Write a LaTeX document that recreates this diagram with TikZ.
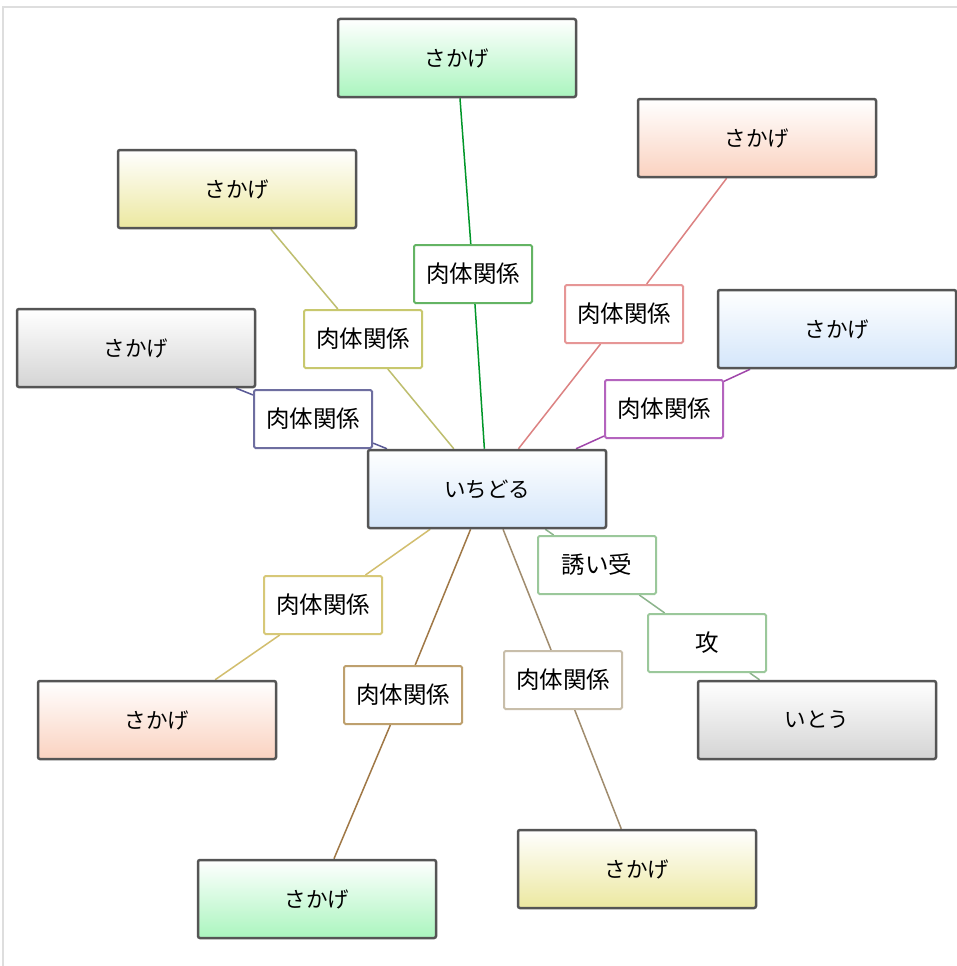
\documentclass[tikz,border=0pt]{standalone}
\usepackage{fontspec}
\newfontfamily\jp{Noto Sans CJK JP}
\usetikzlibrary{backgrounds}
\definecolor{boxborder}{RGB}{85,85,85}
\definecolor{fgreen}{RGB}{170,245,190}
\definecolor{fsalmon}{RGB}{250,210,192}
\definecolor{fyellow}{RGB}{236,232,160}
\definecolor{fgray}{RGB}{212,212,212}
\definecolor{fblue}{RGB}{212,230,250}
\definecolor{lgreen}{RGB}{0,150,40}
\definecolor{bgreen}{RGB}{100,180,100}
\definecolor{lolive}{RGB}{190,190,110}
\definecolor{bolive}{RGB}{200,200,110}
\definecolor{lpink}{RGB}{220,130,130}
\definecolor{bpink}{RGB}{230,150,150}
\definecolor{lnavy}{RGB}{90,90,150}
\definecolor{bnavy}{RGB}{110,110,160}
\definecolor{lpurple}{RGB}{160,70,170}
\definecolor{bpurple}{RGB}{180,100,190}
\definecolor{lsea}{RGB}{140,180,140}
\definecolor{bsea}{RGB}{155,200,155}
\definecolor{lgold}{RGB}{210,190,110}
\definecolor{bgold}{RGB}{215,200,120}
\definecolor{lbrown}{RGB}{160,120,70}
\definecolor{bbrown}{RGB}{190,160,110}
\definecolor{ltan}{RGB}{160,140,110}
\definecolor{btan}{RGB}{200,190,170}
\definecolor{frame}{RGB}{222,222,222}
\tikzset{
  bigbox/.style={draw=boxborder, line width=2.5pt, rounded corners=2pt,
    minimum width=238pt, minimum height=78pt, inner sep=0pt,
    top color=white, bottom color=#1,
    font=\jp\fontsize{21.5}{26}\selectfont},
  lblbox/.style={draw=#1, fill=white, line width=2pt, rounded corners=1.5pt,
    minimum width=118pt, minimum height=58pt, inner sep=0pt,
    font=\jp\fontsize{23.5}{28}\selectfont},
  conn/.style={draw=#1, line width=1.5pt}
}
\begin{document}
\begin{tikzpicture}[x=1pt,y=-1pt]
\useasboundingbox (0,0) rectangle (957,966);
% big boxes
\node[bigbox=fblue]   (hub)  at (487,489) {いちどる};
\node[bigbox=fgreen]  (g1)   at (457,58)  {さかげ};
\node[bigbox=fsalmon] (s1)   at (757,138) {さかげ};
\node[bigbox=fyellow] (y1)   at (237,189) {さかげ};
\node[bigbox=fgray]   (k1)   at (136,348) {さかげ};
\node[bigbox=fblue]   (b1)   at (837,329) {さかげ};
\node[bigbox=fsalmon] (s2)   at (157,720) {さかげ};
\node[bigbox=fgray]   (ito)  at (817,720) {いとう};
\node[bigbox=fgreen]  (g2)   at (317,899) {さかげ};
\node[bigbox=fyellow] (y2)   at (637,869) {さかげ};
% labels
\node[lblbox=bgreen]  (la) at (473,274) {肉体関係};
\node[lblbox=bolive]  (lb) at (363,339) {肉体関係};
\node[lblbox=bpink]   (lc) at (624,314) {肉体関係};
\node[lblbox=bnavy]   (ld) at (313,419) {肉体関係};
\node[lblbox=bpurple] (le) at (664,409) {肉体関係};
\node[lblbox=bsea]    (lf) at (597,565) {誘い受};
\node[lblbox=bsea]    (lg) at (707,643) {攻};
\node[lblbox=bgold]   (lh) at (323,605) {肉体関係};
\node[lblbox=bbrown]  (li) at (403,695) {肉体関係};
\node[lblbox=btan]    (lj) at (563,680) {肉体関係};
\begin{pgfonlayer}{background}
  \fill[white] (0,0) rectangle (957,966);
  \draw[frame, line width=1.2pt] (3,966) -- (3,7) -- (957,7);
  \draw[conn=lgreen]  (g1) -- (la) -- (hub);
  \draw[conn=lolive]  (y1) -- (lb) -- (hub);
  \draw[conn=lpink]   (s1) -- (lc) -- (hub);
  \draw[conn=lnavy]   (k1) -- (ld) -- (hub);
  \draw[conn=lpurple] (b1) -- (le) -- (hub);
  \draw[conn=lsea]    (hub) -- (lf) -- (lg) -- (ito);
  \draw[conn=lgold]   (s2) -- (lh) -- (hub);
  \draw[conn=lbrown]  (g2) -- (li) -- (hub);
  \draw[conn=ltan]    (y2) -- (lj) -- (hub);
\end{pgfonlayer}
\end{tikzpicture}
\end{document}
